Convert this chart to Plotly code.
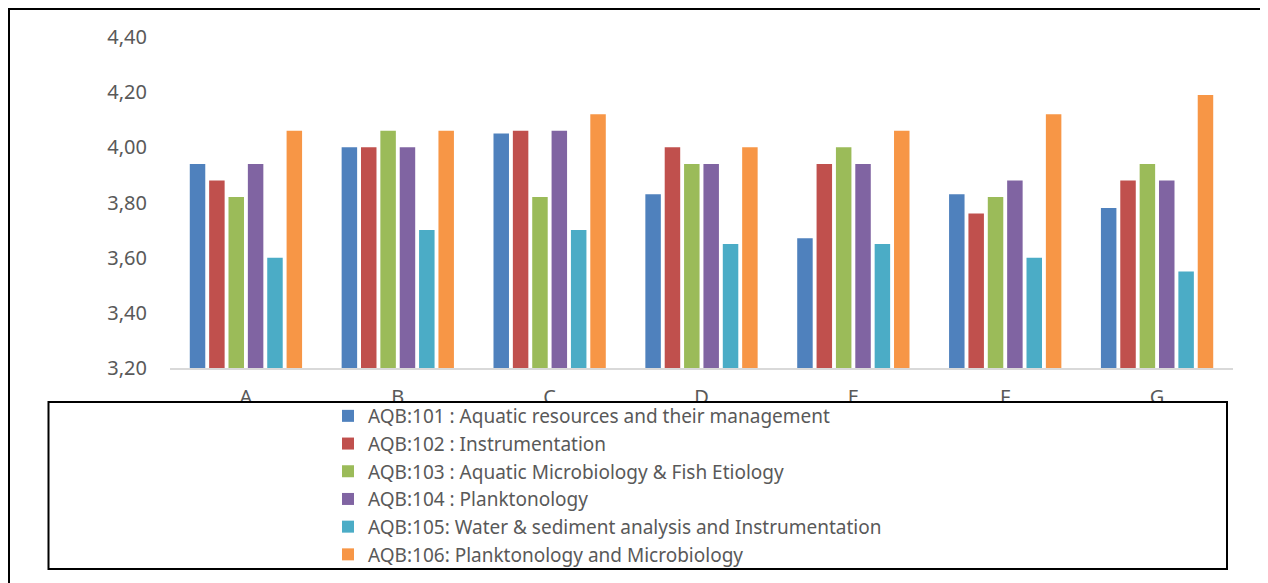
import plotly.graph_objects as go

categories = ["A", "B", "C", "D", "E", "F", "G"]
series_names = [
    "AQB:101 : Aquatic resources and their management",
    "AQB:102 : Instrumentation",
    "AQB:103 : Aquatic Microbiology & Fish Etiology",
    "AQB:104 : Planktonology",
    "AQB:105: Water & sediment analysis and Instrumentation",
    "AQB:106: Planktonology and Microbiology",
]
aqb101 = [3.94, 4.00, 4.05, 3.83, 3.67, 3.83, 3.78]
aqb102 = [3.88, 4.00, 4.06, 4.00, 3.94, 3.76, 3.88]
aqb103 = [3.82, 4.06, 3.82, 3.94, 4.00, 3.82, 3.94]
aqb104 = [3.94, 4.00, 4.06, 3.94, 3.94, 3.88, 3.88]
aqb105 = [3.60, 3.70, 3.70, 3.65, 3.65, 3.60, 3.55]
aqb106 = [4.06, 4.06, 4.12, 4.00, 4.06, 4.12, 4.19]
series_values = [aqb101, aqb102, aqb103, aqb104, aqb105, aqb106]
colors = ["#4F81BD", "#C0504D", "#9BBB59", "#8064A2", "#4BACC6", "#F79646"]
y_ticks = [3.2, 3.4, 3.6, 3.8, 4.0, 4.2, 4.4]

FONT = "Noto Sans, Open Sans, sans-serif"
OFF = 8  # page body margin
W, H = 1268 - OFF, 583 - OFF
L, R, T, B = 170 - OFF, 1233 - OFF, 37 - OFF, 368 - OFF

fig = go.Figure()
for i, (name, vals) in enumerate(zip(series_names, series_values)):
    fig.add_trace(go.Bar(
        x=categories, y=vals, name=name,
        marker=dict(color=colors[i], line=dict(width=0)),
    ))

def px(x):
    return (x - OFF - L) / (R - L)

def py(y):
    return (B - (y - OFF)) / (B - T)

fig.update_layout(
    width=W, height=H,
    margin=dict(l=L, r=W - R, t=T, b=H - B, pad=0, autoexpand=False),
    paper_bgcolor="white", plot_bgcolor="white",
    barmode="group", bargap=0.235, bargroupgap=0.2,
    separators=", ",
    font=dict(family=FONT, color="#595959", size=19),
    showlegend=True,
    legend=dict(
        x=px(328), y=py(397), xanchor="left", yanchor="top",
        bgcolor="rgba(0,0,0,0)", borderwidth=0,
        font=dict(family=FONT, size=19, color="#595959"),
    ),
    xaxis=dict(
        showgrid=False, zeroline=False, showline=True,
        linecolor="#d9d9d9", linewidth=2,
        ticks="", ticklabelstandoff=10,
        tickfont=dict(family=FONT, size=20, color="#595959"),
    ),
    yaxis=dict(
        range=[3.2, 4.4], tickvals=y_ticks,
        tickformat=".2f",
        showgrid=False, zeroline=False, showline=False,
        ticks="", ticklabelstandoff=22,
        tickfont=dict(family=FONT, size=20, color="#595959"),
    ),
    shapes=[
        dict(type="rect", xref="paper", yref="paper",
             x0=px(9), x1=px(1290), y0=py(600), y1=py(9),
             line=dict(color="black", width=2), fillcolor="rgba(0,0,0,0)",
             layer="above"),
        dict(type="rect", xref="paper", yref="paper",
             x0=px(48.5), x1=px(1227), y0=py(569), y1=py(402),
             line=dict(color="black", width=2), fillcolor="white",
             layer="above"),
    ],
)

fig.write_html("out.html")
